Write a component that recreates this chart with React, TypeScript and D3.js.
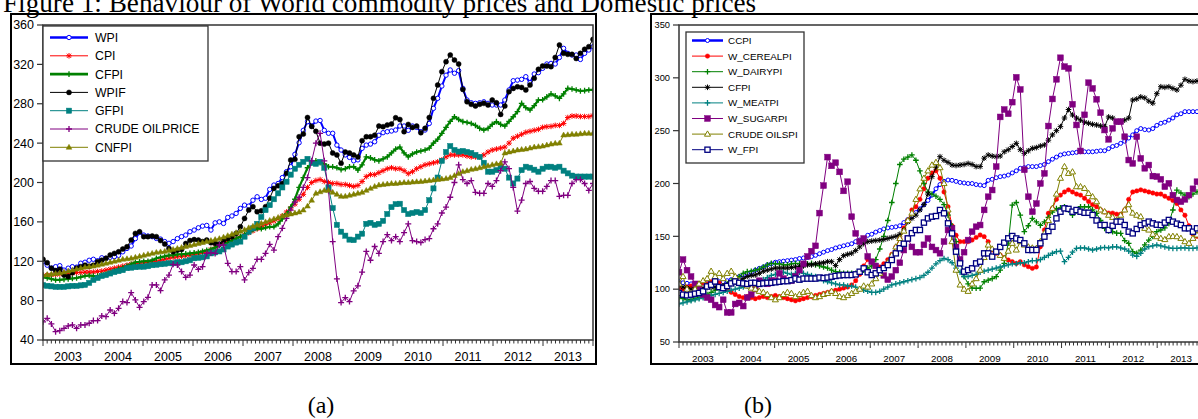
import React, { useEffect, useRef } from 'react';
import * as d3 from 'd3';

// ---- panel (a): monthly, 2003M01 - 2013M12 ----
const wpi = [119.5,116,113,114.5,115.5,111,113,114.5,114,118,119,121,
  122,120.5,123.5,123,124,124.6,126,129.6,133,135.5,143,149.3,
  146.6,145.6,145,143.2,142.5,140,138.2,140,143,145,146.6,150,
  151.7,154,155.7,156.4,151.7,159,160,158.4,164.5,166,168.6,173.7,
  177,176,182,185.5,182.8,184,193,197.4,199,205,211,216,
  228.6,240.4,253,261.8,257.4,262.4,263,253,250,250,238,233,
  228,225.5,222,223,234.7,238,239,241.4,248,250.6,251.6,252.3,
  253.3,257.4,257.4,253,257.4,256,251.6,253.3,260,275.3,285.5,298,
  309,314.3,311,313.6,295.6,283.8,281,280.4,281,282,280.4,278.7,
  278.7,278.7,283.8,294,303.4,304,304.8,307.5,301.4,310.2,311.6,316,
  320.4,321,320.4,327,336.3,331.2,329.5,329.5,325,331.2,334.6,338];
const cpi = [105,106,106,106.5,107,107.5,108,108,108.5,108.5,109,109,
  109,109.5,110,111,112,113,114,115,116,117,117.5,118,
  118.5,119,119.5,120,121,122,123,124,124.5,125,125.5,126,
  127,128,129,130,132,134,136,138,140,141,143,145,
  147,149,151,153,155,157,159,161,163,166,170,174,
  178,183,188,195,200,202,203,201,200,199,199,198,
  198,197,196,197,201,206,208,208,210,212,214,215,
  214,214,212,209,211,214,216,218,219,220,221,223,
  226,228,228,228,228,227,226,226,226,228,231,233,
  234,235,236,240,245,247,249,251,252,253,254,256,
  256.7,257,258,258,260,266,267.5,267.5,267,267,267,268];
const cfpi = [104,103,102,101,101,101.5,102,102.5,103,104,105,105.5,
  105,105,106,107,108,110,112,113,115,117,119,119.5,
  120,120,121,123,124,125,126,126,127,127,127.5,128,
  128.5,129,130,131,132,134,136.5,137,139,141,143,145,
  147,150,152,153.4,153,154,155,155,158,163,168,175,
  183,195,205,215,220,222,220,219,216,216,215,213,
  214,216,216,212.6,218,226,225,223,222,224,226,230,
  234,236,230,226,229,231,232,233,235,240,244,250,
  256,262,266.8,264,261.8,261,260,258,255,253.3,255,259,
  261.8,259,257.4,262,266.8,272,280.4,276,273.6,278,283.8,284,
  287,290,288,285.5,290,295.6,295,294,293,293.3,294,294];
const wpif = [122,118.5,113,110.5,112,106,104.4,108.3,113,114.5,116,115,
  116,119.5,121,123,126.3,128,129.6,132.4,134.7,141.5,148.3,150,
  145,145,145.6,145,141,137.4,133,129.6,131.3,132,138,141,
  142,141.5,140,141.5,138.8,138.2,137.4,141,143.2,145,148.3,155,
  163.5,172,175.4,170.3,171.3,175.4,184,194,196.7,199,209.3,222.8,
  223.5,246.5,249.2,266,257,252,240,239,240,230,228,219.5,
  231,230,228,226,242.5,246.5,246.5,248,257.3,256.7,258.4,259.4,
  265.8,264,251.6,259,256,257.3,250.6,255,266,285.5,299,312.6,
  322.7,329.5,324.4,320.4,294.6,282,279.4,277.7,279.4,280.4,278.7,283.8,
  281,269.2,277.7,292.3,295.6,297.3,296.6,294,299,305.8,315,318.3,
  318.3,317.7,327,339.7,331.2,330.2,330.2,326,331.2,335.3,338,345.4];
const gfpi = [95.8,95,94.5,94,94,94,94.5,95,95,95.5,96,98,
  101,103,105,106,107.6,109,110,111,113,113.5,114,114.5,
  114.5,115,116,116.5,117,117.5,118,118,119,119,120,121,
  123,123.5,124,125,128,129,130,132,135,137,139,140,
  145,150,153.4,158,165,172,177,183,189,195,200.8,208,
  214,218,221,224,220,219,221,215,195,174,157,150,
  146,142,141.5,145,148,158,159,157,158,161,168,175,
  178,178.4,172,168,169,170,169,172,182,194,205,222,
  231,237,233,231.4,232,231,230,228,226,220,211,211,
  212.6,216,214,205,199,204,212.6,216,215,213,211,214,
  216,216,215,216,212,209.3,207,206,206,206,206,206];
const crudeOil = [58.5,62,56.3,48.5,49.5,51.9,54.3,55.3,51.9,55.3,55.3,57,
  59.7,59.7,64.5,63.8,70.5,67.1,72.2,79,78,88.1,80.7,73.2,
  79,83.4,95.9,95.9,90.2,101,106,116.9,116.2,109.5,103.7,106,
  116.2,111.8,114.5,128,128.7,128,136.5,136.5,117.9,109.5,109.5,114.5,
  101,108.5,112.8,122,122,128,137.2,131.4,145,153.4,163.6,172,
  180,185,195,205,222,240,250,222,192,140,102,78,
  83,79,90,95,109,130,121,135,128,140,147,141,
  145,140,149,158,141,140,139,142,143,153,158,169,
  175,185,200,218,203,199,202,190,189,189,199,196,
  202,212,221,214,195,171,182,199,201,194,191,191,
  196,202,202,186,187,187,199,203,203,199,192,199];
const cnfpi = [106,106.5,107,107.5,108,109,110,111,112,113,114,114.5,
  115,116,117,118,119,120,121,122,122.5,123,124,125,
  126,127,128,129,129.5,130,131,132,133,134,135,136,
  137,138,139,140,141,142,143,144.5,146,147.5,149,150.5,
  152,154,155.5,157,158.5,160,161.5,163,164.5,166,167,168,
  169,170,172,176,182,189,190.6,192,192,190,188,186,
  186,187,188,189,190,192,194,196,197.4,198,198.5,199,
  199,199.5,200,200,200.5,200.8,201,201.5,202,202.5,203,203.5,
  204,205,207,209,211,212,213.3,214,215,216,217,218,
  219,219.5,230,231,232,233,233.5,234,235,236,236.4,237,
  238,239,239.8,240,248.2,248.5,249,249,249.5,250,250,250];

// ---- panel (b) ----
const ccpi = [107,106,105.5,105,105,105.5,106,106,106.5,106.5,107,107,
  108,109,110,112,113.5,115,116,118,119.7,121,123,124,
  125.5,126,126.5,127,127.5,128,129,129.5,130,130.8,132,133.5,
  135,136.5,137.5,139,140,141,142,143,145,146.5,148,151,
  152,154,155.5,157,158,158.5,159,160,163,166,169,172.5,
  176,180,184,189,195,199,202,203.3,203,202,201,200.5,
  200,200,199,198.5,198,203,204,205.5,206.5,207,208,210,
  212,214.4,215,216,216,216,217,218,220.7,223,225,227,
  228,228.5,229,229.5,230,230,230,230,230.5,231,231,233,
  235,236,238,240,243,246,250,252,251,250.6,252,255,
  257,258,260,262,265,266,268,268,268,268,269,269];
const wCereal = [101,100,102,103,104,104,106,105,107,108,106,103,
  100,97,95,93,92,93,92,91,92,93,92,93,
  94,93,92,91,90,89,90,91,92,93,94,95,
  96,97,98,99,100,101,102,104,108,114,122,128,
  126,122,121,124,128,133,140,148,158,165,175,178,
  185,195,205,210,212,205,192,178,160,151,145,145,
  145,146.5,149,151.3,149.7,145,137.1,134,132.3,130,127.6,126,
  124.4,126,123,121.3,119.7,121,140.2,156,171.8,176.5,185,189,
  192,194,192,190,189,186,183,180,178,175,173,172,
  172,171,171,175,185,192,193,194,193,192,191,190,
  190,188,186,184,181,175,170,160,152,150,148,147];
const wDairy = [92,91,90,90,91,92,93,95,97,99,101,103,
  105,108,110,112,115,116.6,117,118,119,121,123,124.4,
  124,124,123,123,124,124.4,124,123,124,124.4,123,122,
  121,120,118,116.6,116,115,115,115,115,116,118,120,
  122,128,138,150,165,182,200,218,223,225,227,222,
  212,200,192,190,188,185,180,170,160,145,128,112,
  105,101,100.8,101,107,108.5,110,111.8,118,124.4,143.5,179.6,
  182,170,154.4,160,167,163.6,160.4,163.6,168,173,176.2,177,
  178,175,170,174,178,178,178,175,171.7,165,157.5,155,
  154.4,153,152.8,146,143.3,135.5,133.9,137,142,146.5,150,154.4,
  156,158,162.3,174.9,193.8,191,189,187.5,190,192,195,195];
const cfpiB = [104,102,101,100,100,100.5,101,101.5,102,102,102.5,103,
  104,105,106.5,108,110,112,113,113.5,115,117,118,119,
  120,120,120,120,120.5,121,121.3,122,123,123,124,124.6,
  125,126,126,122.3,128,131.7,133,134,136.5,140,143,145,
  145.5,146,146.5,147,148,149,150,152,156,163.7,167,170,
  175,180,190,206.5,215,225.4,222,220,217.5,217,217.5,218,
  219,218,216,216,224,227,226,225.4,226,230,232,235,
  238,232,228.5,231,233.3,234,235.5,236.5,241,246,250,253.8,
  262,270,264.8,262,260,258,257,256,255.4,254.5,253.8,263,
  262,258.5,259,260,262,279,280,282,281,278,276,285,
  291.6,291,291.6,290,288.5,293,298.6,297,296.4,297,298,298];
const wMeat = [86,87,88,89,90,91,92,93,94,95,96,97,
  98,99,100,101,102,103,104,105,107,109,111,113,
  114,115,116,115,114,115,116,115,114,113,112,110,
  108,107,106,105,104,104,103,103,102,100,99,98,
  97,97,98,100,102,104,105,106,107,108,109,110,
  111,113,116,120,124,127,129,128,125,120,116,112,
  112,113,114,116,117,118,119,120,121,122,123,124,
  124,125,125,126,127,127,128,130,132,134,135.5,136,
  126,130,135,138.6,139,139,138,137,138,139,139.5,139,
  140,140,139,138,136,132.3,131,134,138,140.2,141,141.8,
  141,140,139,138.6,138.6,139,139,138.6,138.6,139,140.2,140];
const wSugar = [116,128,118,112,105,100,95,92,90,85,83,90,
  78,78,86,87,84,92,95,100,108,106,105,108,
  108,115,110,108,108,112,118,124,131,136,141,172,
  198,225,216.7,219.7,211,193,201.7,168.6,152.8,145,148,131,
  126,122,117,113,109,112,118,125,137,148,140,135,
  135,142,148,140,137,134,145,156,157.6,140,128,135,
  146.5,154.4,159.1,160.7,175,187.5,193.8,216,263,270,266,277,
  300.5,289,213,187.5,173.3,181,200,209.6,254.4,280,298.6,319,
  310.6,309,275,255.4,230.8,265,295.4,290,279.7,267,250.6,241.8,
  252.2,258.5,258.5,244.3,222.2,219,244.3,223.8,214.4,217.5,207,206.5,
  204,197,200.2,189,184.4,182.8,185,189,195,201.7,200,198];
const crudeOilS = [105,112,100,95,100,105,108,110,117,112,115,110,
  115,117,112,108,105,103,101,100,98,97,95,92,
  90,92,95,97,96,93,95,97,98,94,92,93,
  95,96,98,96,93,92,94,96,98,100,103,102,
  105,110,115,120,125,132,140,148,155,165,172,185,
  195,205,212,217.5,220,215,200,175,145,118,104,100,
  98,105,110,118,130,141.8,138,135,132,129.2,136,143.4,
  137.1,145,141.8,140,139,138.6,145,152.8,165,176.5,190,205,
  216,209.6,211,197,197,195.4,190.6,187.5,182.8,175,173.3,170,
  168,165,170,175,180,172,170,168.6,157.6,156,152,149.7,
  148.1,147,149.7,150,149.7,148.1,145,143.4,148.1,151.3,150,148];
const wFpi = [96.4,94.8,94.2,94.8,95.7,96.4,98,102.6,104.2,107.3,102,101,
  103,105.5,107.3,106,105.5,105,106,106,105,105.5,106,106,
  106.5,107,107.6,107.6,108.5,110,109,110,110,110,110,111,
  110.5,111,111.8,112.5,113,113.4,113.4,113.4,114,116.5,119.7,116,
  113.4,115,118,120,122.8,127.6,133.9,138.7,143,148,153,156,
  156,163,167,168.6,169.2,174.9,171.8,162.3,152.8,135.5,124.4,116.6,
  118.1,119.7,124.4,126,133.9,133.9,130.8,135.5,140,144,148.1,150.3,
  148,146.5,143.4,137.1,137.1,137.1,143.4,149.7,155,159.1,167,173.3,
  176.5,176,173.3,174.9,173.3,172.3,172.3,170.2,165,160.7,160.7,156,
  160,163.9,163.9,160.7,154.4,152.8,157,160.7,162.3,163.9,162.3,161,
  160.7,163,165.5,163.9,162,160.7,157.6,157.6,154.4,157.6,157,156];

const years = ['2003','2004','2005','2006','2007','2008','2009','2010','2011','2012','2013'];
const yTicksA = [40,80,120,160,200,240,280,320,360];
const yTicksB = [50,100,150,200,250,300,350];

const SANS = 'Liberation Sans, Arial, sans-serif';
const SERIF = 'Liberation Serif, Times New Roman, serif';

const seriesA = [
  { name: 'WPI', values: wpi, color: '#0000ff', lw: 2, mk: 'oc', ms: 2.2 },
  { name: 'CPI', values: cpi, color: '#ff0000', lw: 1, mk: 'st', ms: 2.8 },
  { name: 'CFPI', values: cfpi, color: '#008000', lw: 2.2, mk: 'pl', ms: 2.8 },
  { name: 'WPIF', values: wpif, color: '#000000', lw: 1, mk: 'fc', ms: 2.5 },
  { name: 'GFPI', values: gfpi, color: '#008080', lw: 1, mk: 'fs', ms: 2.6 },
  { name: 'CRUDE OILPRICE', values: crudeOil, color: '#800080', lw: 1, mk: 'pl', ms: 3 },
  { name: 'CNFPI', values: cnfpi, color: '#808000', lw: 1, mk: 'ft', ms: 3 },
];
const seriesB = [
  { name: 'CCPI', values: ccpi, color: '#0000ff', lw: 2, mk: 'oc', ms: 2 },
  { name: 'W_CEREALPI', values: wCereal, color: '#ff0000', lw: 1, mk: 'fc', ms: 2.2 },
  { name: 'W_DAIRYPI', values: wDairy, color: '#008000', lw: 1, mk: 'pl', ms: 2.8 },
  { name: 'CFPI', values: cfpiB, color: '#000000', lw: 1, mk: 'st', ms: 2.8 },
  { name: 'W_MEATPI', values: wMeat, color: '#008080', lw: 1, mk: 'pl', ms: 2.8 },
  { name: 'W_SUGARPI', values: wSugar, color: '#800080', lw: 1, mk: 'fs', ms: 2.9 },
  { name: 'CRUDE OILSPI', values: crudeOilS, color: '#808000', lw: 1, mk: 'ot', ms: 3.2 },
  { name: 'W_FPI', values: wFpi, color: '#000080', lw: 1, mk: 'os', ms: 2.6 },
];

// one marker
const mark = (g: any, kind: string, color: string, x: number, y: number, s: number) => {
  if (kind === 'oc' || kind === 'fc') {
    g.append('circle').attr('cx', x).attr('cy', y).attr('r', s)
      .attr('fill', kind === 'oc' ? '#fff' : color)
      .attr('stroke', color).attr('stroke-width', kind === 'oc' ? 1 : 0.5);
  } else if (kind === 'fs' || kind === 'os') {
    g.append('rect').attr('x', x - s).attr('y', y - s).attr('width', 2 * s).attr('height', 2 * s)
      .attr('fill', kind === 'os' ? '#fff' : color)
      .attr('stroke', color).attr('stroke-width', kind === 'os' ? 1.3 : 0.5);
  } else if (kind === 'ft' || kind === 'ot') {
    g.append('path')
      .attr('d', `M${x},${y - s}L${x + s * 0.95},${y + s * 0.65}L${x - s * 0.95},${y + s * 0.65}Z`)
      .attr('fill', kind === 'ot' ? '#fff' : color)
      .attr('stroke', color).attr('stroke-width', kind === 'ot' ? 1 : 0.5);
  } else if (kind === 'pl') {
    g.append('path').attr('d', `M${x - s},${y}H${x + s}M${x},${y - s}V${y + s}`)
      .attr('stroke', color).attr('stroke-width', 1.3).attr('fill', 'none');
  } else {
    const d = s * 0.75;
    g.append('path')
      .attr('d', `M${x - s},${y}H${x + s}M${x},${y - s}V${y + s}M${x - d},${y - d}L${x + d},${y + d}M${x - d},${y + d}L${x + d},${y - d}`)
      .attr('stroke', color).attr('stroke-width', 1).attr('fill', 'none');
  }
};

const drawPanel = (svg: any, p: any) => {
  const { id, left, right, top, bottom, yDom, yTicks, series, fs, yfs, xfs, frame, leg } = p;
  const xTick = d3.scaleLinear().domain([0, 132]).range([left, right]);
  const xData = d3.scaleLinear().domain([0, 131]).range([left, right]);
  const y = d3.scaleLinear().domain(yDom).range([bottom, top]);

  // outer frame
  svg.append('rect').attr('x', frame[0]).attr('y', frame[1]).attr('width', frame[2]).attr('height', frame[3])
    .attr('fill', 'none').attr('stroke', '#000').attr('stroke-width', 2);

  svg.append('clipPath').attr('id', id).append('rect')
    .attr('x', left).attr('y', top).attr('width', right - left).attr('height', bottom - top);

  const line = d3.line<number>().x((d, i) => xData(i)).y(d => y(d));
  series.forEach((s: any) => {
    const g = svg.append('g').attr('clip-path', `url(#${id})`);
    g.append('path').datum(s.values).attr('d', line)
      .attr('fill', 'none').attr('stroke', s.color).attr('stroke-width', s.lw);
    s.values.forEach((v: number, i: number) => mark(g, s.mk, s.color, xData(i), y(v), s.ms));
  });

  // plot border
  svg.append('rect').attr('x', left).attr('y', top).attr('width', right - left).attr('height', bottom - top)
    .attr('fill', 'none').attr('stroke', '#333').attr('stroke-width', 1.5);

  // y axis
  yTicks.forEach((t: number) => {
    svg.append('line').attr('x1', left - 6).attr('x2', left).attr('y1', y(t)).attr('y2', y(t))
      .attr('stroke', '#333').attr('stroke-width', 1.2);
    svg.append('text').attr('x', left - 9).attr('y', y(t)).attr('dy', '0.35em')
      .attr('text-anchor', 'end').attr('font-family', SANS).attr('font-size', yfs).attr('fill', '#000')
      .text(t);
  });

  // x axis: monthly minor ticks, yearly major ticks
  d3.range(0, 133).forEach(m => {
    svg.append('line').attr('x1', xTick(m)).attr('x2', xTick(m))
      .attr('y1', bottom).attr('y2', bottom + (m % 12 === 0 ? 6 : 3.5))
      .attr('stroke', '#333').attr('stroke-width', 1);
  });
  years.forEach((yr, k) => {
    svg.append('text').attr('x', xTick(12 * k + 6)).attr('y', bottom + 17)
      .attr('dy', '0.35em').attr('text-anchor', 'middle')
      .attr('font-family', SANS).attr('font-size', xfs).attr('fill', '#000').text(yr);
  });

  // legend
  const lg = svg.append('g');
  lg.append('rect').attr('x', leg.x).attr('y', leg.y).attr('width', leg.w).attr('height', leg.h)
    .attr('fill', '#fff').attr('stroke', '#333').attr('stroke-width', 1.3);
  series.forEach((s: any, i: number) => {
    const cy = leg.y0 + i * leg.dy;
    lg.append('line').attr('x1', leg.lx0).attr('x2', leg.lx1).attr('y1', cy).attr('y2', cy)
      .attr('stroke', s.color).attr('stroke-width', s.lw === 1 ? 1 : s.lw + 0.5);
    mark(lg, s.mk, s.color, (leg.lx0 + leg.lx1) / 2, cy, s.ms);
    lg.append('text').attr('x', leg.tx).attr('y', cy).attr('dy', '0.36em')
      .attr('font-family', SANS).attr('font-size', fs).attr('fill', '#000').text(s.name);
  });
};

const App = () => {
  const ref = useRef<SVGSVGElement>(null);

  useEffect(() => {
    const svg = d3.select(ref.current);
    svg.selectAll('*').remove();

    svg.append('rect').attr('width', 1198).attr('height', 419).attr('fill', '#fff');

    // the figure caption is cropped at the top edge, as in the original scan
    svg.append('text').attr('x', 3).attr('y', 11.5)
      .attr('font-family', SERIF).attr('font-size', 27.2).attr('fill', '#000')
      .text('Figure 1: Behaviour of World commodity prices and Domestic prices');

    drawPanel(svg, {
      id: 'clipA', left: 43, right: 593, top: 25, bottom: 340,
      yDom: [40, 360], yTicks: yTicksA, series: seriesA,
      fs: 12.3, yfs: 12.5, xfs: 12.5,
      frame: [11, 14, 585, 350],
      leg: { x: 43, y: 26, w: 165, h: 135, y0: 37.5, dy: 18.3, lx0: 50, lx1: 88, tx: 95 },
    });
    drawPanel(svg, {
      id: 'clipB', left: 679, right: 1205, top: 25, bottom: 342,
      yDom: [50, 350], yTicks: yTicksB, series: seriesB,
      fs: 9.9, yfs: 9.3, xfs: 9.8,
      frame: [651, 14, 600, 350],
      leg: { x: 686, y: 32, w: 118, h: 131, y0: 40.5, dy: 15.6, lx0: 692, lx1: 723, tx: 728 },
    });

    svg.append('text').attr('x', 321).attr('y', 413).attr('text-anchor', 'middle')
      .attr('font-family', SERIF).attr('font-size', 24).attr('fill', '#000').text('(a)');
    svg.append('text').attr('x', 758).attr('y', 413).attr('text-anchor', 'middle')
      .attr('font-family', SERIF).attr('font-size', 24).attr('fill', '#000').text('(b)');
  }, []);

  return (
    <svg ref={ref} width={1198} height={419} viewBox="0 0 1198 419"
      style={{ position: 'absolute', left: 0, top: 0, display: 'block', background: '#fff' }} />
  );
};

export default App;
